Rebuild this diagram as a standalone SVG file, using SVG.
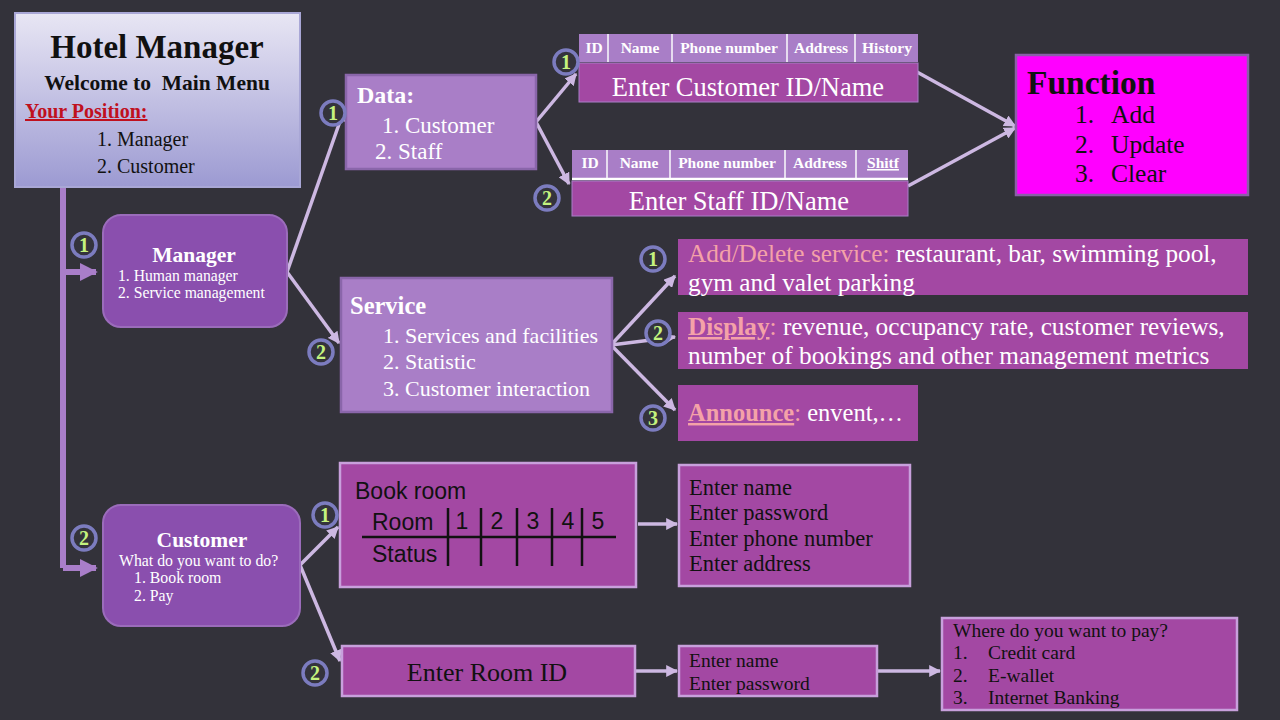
<svg xmlns="http://www.w3.org/2000/svg" width="1280" height="720" viewBox="0 0 1280 720">
<defs>
<linearGradient id="hm" x1="0" y1="0" x2="0" y2="1">
<stop offset="0" stop-color="#e8e6f4"/>
<stop offset="1" stop-color="#9c9ad2"/>
</linearGradient>
<marker id="ah" viewBox="0 0 10 10" refX="9" refY="5" markerWidth="12" markerHeight="12" markerUnits="userSpaceOnUse" orient="auto">
<path d="M0,0 L10,5 L0,10 Z" fill="#cdb8e2"/>
</marker>
<marker id="ahb" viewBox="0 0 10 10" refX="9" refY="5" markerWidth="18" markerHeight="18" markerUnits="userSpaceOnUse" orient="auto">
<path d="M0,0 L10,5 L0,10 Z" fill="#a97ec9"/>
</marker>
</defs>
<style>
.serif{font-family:"Liberation Serif","Times New Roman","DejaVu Serif",serif}
.sans{font-family:"Liberation Sans","DejaVu Sans",sans-serif}
.conn{stroke:#cdb8e2;stroke-width:3.5;fill:none}
.spine{stroke:#a97ec9;stroke-width:6;fill:none}
.num circle{fill:#34333c;stroke:#7c7cbf;stroke-width:3.5}
.num text{fill:#c4f27e;font-weight:bold;font-size:20px;text-anchor:middle;font-family:"Liberation Serif","Times New Roman",serif}
.mag{fill:#a348a3;stroke:#c8a0dc;stroke-width:2.5}
.lil{fill:#a97ec7;stroke:#8a66aa;stroke-width:2.5}
.rnd{fill:#8a4fae;stroke:#9b6cbb;stroke-width:2}
.w{fill:#ffffff}
.k{fill:#111111}
.pink{fill:#f4a2a8}
.th{fill:#a97ec7}
.thl{stroke:#e6dcef;stroke-width:2}
.tht{fill:#ffffff;font-weight:bold;font-size:15.5px;text-anchor:middle}
</style>
<rect width="1280" height="720" fill="#33323a"/>

<g id="connectors">
<path class="spine" d="M63,187 V568"/>
<path class="spine" d="M63,272 H96" marker-end="url(#ahb)"/>
<path class="spine" d="M63,568 H96" marker-end="url(#ahb)"/>
<path class="conn" d="M287,272 L344,110" marker-end="url(#ah)"/>
<path class="conn" d="M287,272 L339,343" marker-end="url(#ah)"/>
<path class="conn" d="M536,122 L576,74" marker-end="url(#ah)"/>
<path class="conn" d="M536,122 L569,184" marker-end="url(#ah)"/>
<path class="conn" d="M917,72 L1015,126" marker-end="url(#ah)"/>
<path class="conn" d="M908,186 L1015,128" marker-end="url(#ah)"/>
<path class="conn" d="M611,345 L675,276" marker-end="url(#ah)"/>
<path class="conn" d="M611,345 L675,337" marker-end="url(#ah)"/>
<path class="conn" d="M611,345 L675,410" marker-end="url(#ah)"/>
<path class="conn" d="M300,565 L338,527" marker-end="url(#ah)"/>
<path class="conn" d="M300,565 L340,661" marker-end="url(#ah)"/>
<path class="conn" d="M638,524 H677" marker-end="url(#ah)"/>
<path class="conn" d="M635,671 H677" marker-end="url(#ah)"/>
<path class="conn" d="M877,671 H940" marker-end="url(#ah)"/>
</g>

<g id="hotel-manager">
<rect x="15" y="13" width="285" height="174" fill="url(#hm)" stroke="#a9a7d6" stroke-width="2"/>
<text class="serif k" x="157" y="58" font-size="33" font-weight="bold" text-anchor="middle">Hotel Manager</text>
<text class="serif k" x="157" y="90" font-size="21.5" font-weight="bold" text-anchor="middle" xml:space="preserve">Welcome to  Main Menu</text>
<text class="serif" x="25" y="118" font-size="20" font-weight="bold" fill="#c0101e" text-decoration="underline">Your Position:</text>
<text class="serif k" x="97" y="146" font-size="20">1. Manager</text>
<text class="serif k" x="97" y="173" font-size="20">2. Customer</text>
</g>

<g id="manager">
<rect class="rnd" x="103" y="215" width="184" height="112" rx="18"/>
<text class="serif w" x="194" y="262" font-size="21.5" font-weight="bold" text-anchor="middle">Manager</text>
<text class="serif w" x="118" y="281" font-size="15.7">1. Human manager</text>
<text class="serif w" x="118" y="298" font-size="15.7">2. Service management</text>
</g>

<g id="customer">
<rect class="rnd" x="103" y="505" width="197" height="121" rx="18"/>
<text class="serif w" x="202" y="547" font-size="21.5" font-weight="bold" text-anchor="middle">Customer</text>
<text class="serif w" x="119" y="566" font-size="15.8">What do you want to do?</text>
<text class="serif w" x="134" y="583" font-size="15.8">1. Book room</text>
<text class="serif w" x="134" y="601" font-size="15.8">2. Pay</text>
</g>

<g id="data">
<rect class="lil" x="346" y="75" width="190" height="94"/>
<text class="serif w" x="357" y="103" font-size="24" font-weight="bold">Data:</text>
<text class="serif w" x="382" y="133" font-size="23">1. Customer</text>
<text class="serif w" x="375" y="159" font-size="23">2. Staff</text>
</g>

<g id="customer-table" class="serif">
<rect class="th" x="579" y="34" width="339" height="28"/>
<path class="thl" d="M608,34 V62 M672,34 V62 M787,34 V62 M855,34 V62"/>
<text class="tht" x="594" y="53">ID</text>
<text class="tht" x="640" y="53">Name</text>
<text class="tht" x="729" y="53">Phone number</text>
<text class="tht" x="821" y="53">Address</text>
<text class="tht" x="887" y="53">History</text>
<rect x="579" y="63" width="339" height="39" fill="#a348a3" stroke="#a97ec7" stroke-width="1"/>
<text class="w" x="748" y="96" font-size="26.5" text-anchor="middle">Enter Customer ID/Name</text>
</g>

<g id="staff-table" class="serif">
<rect class="th" x="572" y="150" width="336" height="28"/>
<path class="thl" d="M607,150 V178 M670,150 V178 M785,150 V178 M856,150 V178"/>
<text class="tht" x="590" y="168">ID</text>
<text class="tht" x="639" y="168">Name</text>
<text class="tht" x="727" y="168">Phone number</text>
<text class="tht" x="820" y="168">Address</text>
<text class="tht" x="883" y="168" text-decoration="underline">Shitf</text>
<path d="M572,179 H908" stroke="#ffffff" stroke-width="2.5"/>
<rect x="572" y="181" width="336" height="35" fill="#a348a3" stroke="#a97ec7" stroke-width="1"/>
<text class="w" x="739" y="210" font-size="26.5" text-anchor="middle">Enter Staff ID/Name</text>
</g>

<g id="function" class="serif">
<rect x="1016" y="55" width="232" height="140" fill="#ff00ff" stroke="#8a5fa8" stroke-width="2.5"/>
<text class="k" x="1027" y="94" font-size="33.5" font-weight="bold">Function</text>
<text class="k" x="1075" y="123" font-size="25.5">1.</text>
<text class="k" x="1111" y="123" font-size="25.5">Add</text>
<text class="k" x="1075" y="153" font-size="25.5">2.</text>
<text class="k" x="1111" y="153" font-size="25.5">Update</text>
<text class="k" x="1075" y="182" font-size="25.5">3.</text>
<text class="k" x="1111" y="182" font-size="25.5">Clear</text>
</g>

<g id="service">
<rect class="lil" x="341" y="278" width="271" height="134"/>
<text class="serif w" x="350" y="314" font-size="24.5" font-weight="bold">Service</text>
<text class="serif w" x="383" y="343" font-size="22">1. Services and facilities</text>
<text class="serif w" x="383" y="369" font-size="22">2. Statistic</text>
<text class="serif w" x="383" y="396" font-size="22">3. Customer interaction</text>
</g>

<g id="add-delete-service" class="serif">
<rect x="678" y="239" width="570" height="56" fill="#a348a3"/>
<text x="688" y="262" font-size="25.3"><tspan class="pink">Add/Delete service:</tspan><tspan class="w"> restaurant, bar, swimming pool,</tspan></text>
<text class="w" x="688" y="291" font-size="25.3">gym and valet parking</text>
</g>

<g id="display" class="serif">
<rect x="678" y="312" width="570" height="57" fill="#a348a3"/>
<text x="688" y="335" font-size="25.3"><tspan class="pink" font-weight="bold" text-decoration="underline">Display</tspan><tspan class="pink">:</tspan><tspan class="w"> revenue, occupancy rate, customer reviews,</tspan></text>
<text class="w" x="688" y="364" font-size="25.3">number of bookings and other management metrics</text>
</g>

<g id="announce" class="serif">
<rect x="678" y="385" width="240" height="56" fill="#a348a3"/>
<text x="688" y="421" font-size="24.5"><tspan class="pink" font-weight="bold" text-decoration="underline">Announce</tspan><tspan class="pink">:</tspan><tspan class="w"> envent,…</tspan></text>
</g>

<g id="book-room">
<rect class="mag" x="340" y="463" width="296" height="124"/>
<text class="sans k" x="355" y="499" font-size="23">Book room</text>
<text class="sans k" x="372" y="530" font-size="23">Room</text>
<text class="sans k" x="372" y="562" font-size="23">Status</text>
<text class="sans k" x="462" y="529" font-size="23" text-anchor="middle">1</text>
<text class="sans k" x="497" y="529" font-size="23" text-anchor="middle">2</text>
<text class="sans k" x="533" y="529" font-size="23" text-anchor="middle">3</text>
<text class="sans k" x="568" y="529" font-size="23" text-anchor="middle">4</text>
<text class="sans k" x="598" y="529" font-size="23" text-anchor="middle">5</text>
<path d="M362,537 H616 M448,508 V566 M481,508 V566 M517,508 V566 M552,508 V566 M582,508 V566" stroke="#111111" stroke-width="2.5" fill="none"/>
</g>

<g id="book-details" class="serif">
<rect class="mag" x="679" y="465" width="231" height="121"/>
<text class="k" x="689" y="495" font-size="22.5">Enter name</text>
<text class="k" x="689" y="520" font-size="22.5">Enter password</text>
<text class="k" x="689" y="546" font-size="22.5">Enter phone number</text>
<text class="k" x="689" y="571" font-size="22.5">Enter address</text>
</g>

<g id="enter-room-id" class="serif">
<rect class="mag" x="342" y="646" width="293" height="50"/>
<text class="k" x="487" y="681" font-size="26" text-anchor="middle">Enter Room ID</text>
</g>

<g id="pay-login" class="serif">
<rect class="mag" x="679" y="646" width="198" height="50"/>
<text class="k" x="689" y="667" font-size="19.5">Enter name</text>
<text class="k" x="689" y="690" font-size="19.5">Enter password</text>
</g>

<g id="pay-method" class="serif">
<rect class="mag" x="942" y="618" width="295" height="92"/>
<text class="k" x="953" y="637" font-size="19.5">Where do you want to pay?</text>
<text class="k" x="953" y="659" font-size="19.5">1.</text>
<text class="k" x="988" y="659" font-size="19.5">Credit card</text>
<text class="k" x="953" y="682" font-size="19.5">2.</text>
<text class="k" x="988" y="682" font-size="19.5">E-wallet</text>
<text class="k" x="953" y="704" font-size="19.5">3.</text>
<text class="k" x="988" y="704" font-size="19.5">Internet Banking</text>
</g>

<g id="badges">
<g class="num"><circle cx="84" cy="245" r="12"/><text x="84" y="252">1</text></g>
<g class="num"><circle cx="84" cy="538" r="12"/><text x="84" y="545">2</text></g>
<g class="num"><circle cx="333" cy="113" r="12"/><text x="333" y="120">1</text></g>
<g class="num"><circle cx="321" cy="352" r="12"/><text x="321" y="359">2</text></g>
<g class="num"><circle cx="566" cy="62" r="12"/><text x="566" y="69">1</text></g>
<g class="num"><circle cx="547" cy="198" r="12"/><text x="547" y="205">2</text></g>
<g class="num"><circle cx="653" cy="259" r="12"/><text x="653" y="266">1</text></g>
<g class="num"><circle cx="658" cy="333" r="12"/><text x="658" y="340">2</text></g>
<g class="num"><circle cx="653" cy="418" r="12"/><text x="653" y="425">3</text></g>
<g class="num"><circle cx="325" cy="515" r="12"/><text x="325" y="522">1</text></g>
<g class="num"><circle cx="315" cy="673" r="12"/><text x="315" y="680">2</text></g>
</g>
</svg>
